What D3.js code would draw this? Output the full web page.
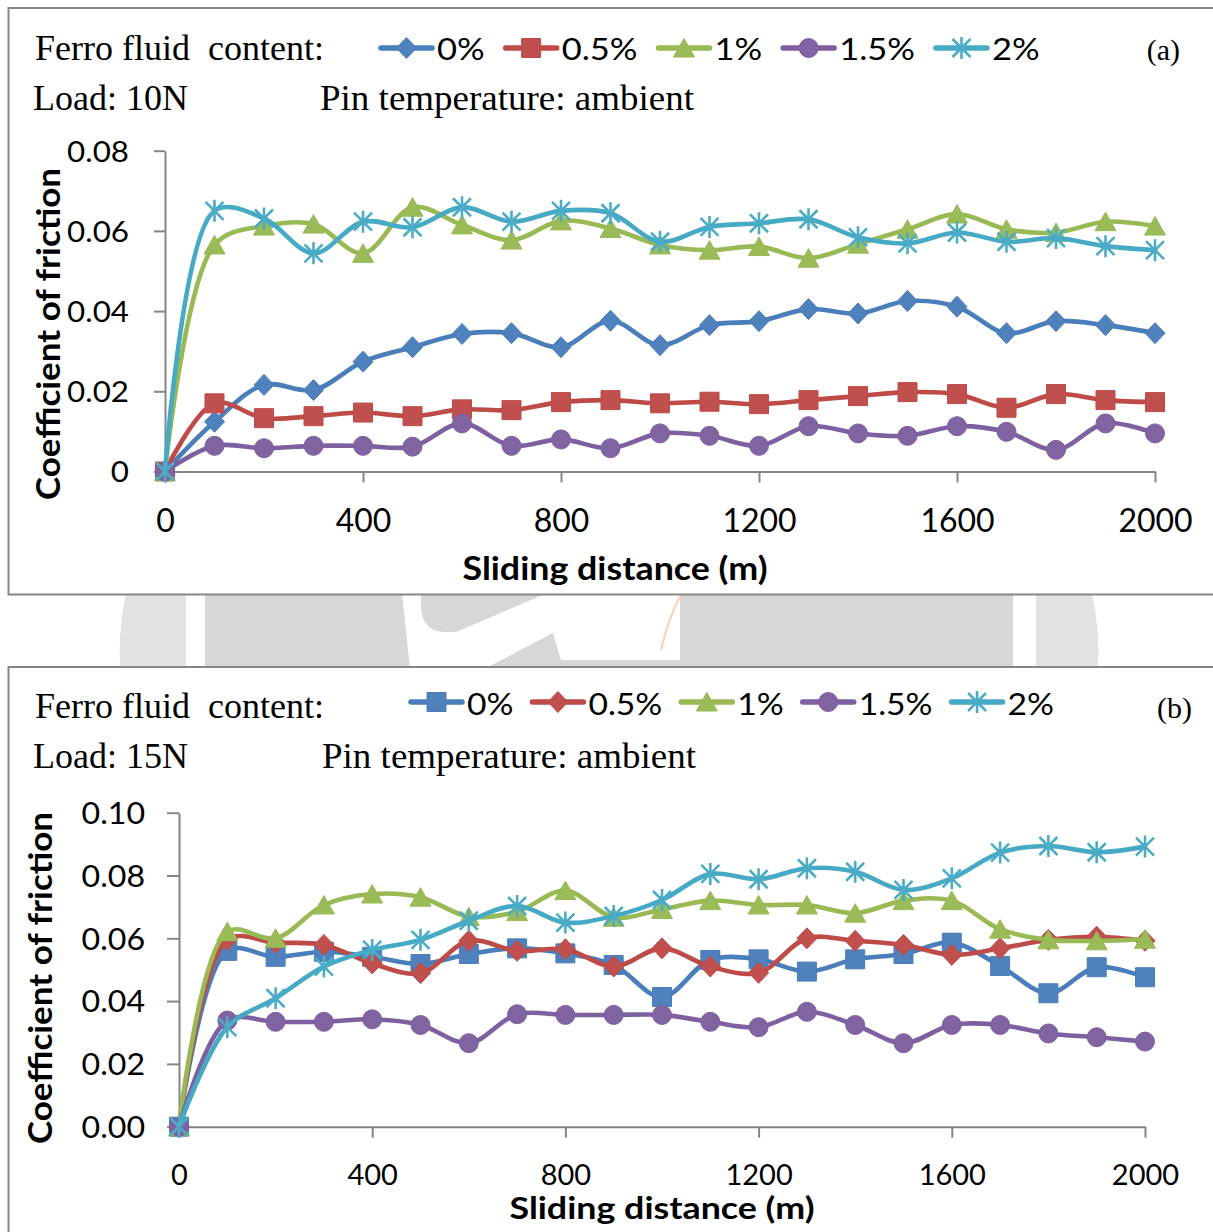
<!DOCTYPE html>
<html>
<head>
<meta charset="utf-8">
<script src="https://d3js.org/d3.v7.min.js"></script>
<style>
  body { margin: 0; background: #ffffff; }
  svg { display: block; }
</style>
</head>
<body>
<div id="chart"></div>
<script>
// sliding distance (m), one reading every 100 m
var distance = [0, 100, 200, 300, 400, 500, 600, 700, 800, 900, 1000,
                1100, 1200, 1300, 1400, 1500, 1600, 1700, 1800, 1900, 2000];

var seriesNames = ["0%", "0.5%", "1%", "1.5%", "2%"];

// (a) load 10N - coefficient of friction per ferro fluid content
var cofA0  = [0, 0.0124, 0.0216, 0.0203, 0.0274, 0.0310, 0.0343, 0.0345, 0.0310, 0.0376, 0.0315,
              0.0365, 0.0375, 0.0405, 0.0394, 0.0425, 0.0411, 0.0345, 0.0375, 0.0365, 0.0345];
var cofA05 = [0, 0.0170, 0.0133, 0.0138, 0.0147, 0.0138, 0.0155, 0.0153, 0.0173, 0.0178, 0.0170,
              0.0174, 0.0168, 0.0178, 0.0188, 0.0198, 0.0193, 0.0159, 0.0193, 0.0178, 0.0173];
var cofA1  = [0, 0.0565, 0.0612, 0.0617, 0.0544, 0.0659, 0.0615, 0.0577, 0.0625, 0.0606, 0.0565,
              0.0552, 0.0561, 0.0532, 0.0567, 0.0604, 0.0642, 0.0604, 0.0596, 0.0623, 0.0612];
var cofA15 = [0, 0.0064, 0.0058, 0.0064, 0.0064, 0.0062, 0.0120, 0.0064, 0.0080, 0.0058, 0.0095,
              0.0089, 0.0064, 0.0113, 0.0095, 0.0089, 0.0113, 0.0099, 0.0054, 0.0120, 0.0095];
var cofA2  = [0, 0.0650, 0.0631, 0.0544, 0.0623, 0.0609, 0.0659, 0.0623, 0.0650, 0.0644, 0.0573,
              0.0610, 0.0619, 0.0629, 0.0584, 0.0569, 0.0596, 0.0573, 0.0582, 0.0562, 0.0552];

// (b) load 15N
var cofB0  = [0, 0.0560, 0.0541, 0.0557, 0.0541, 0.0518, 0.0550, 0.0568, 0.0552, 0.0515, 0.0413,
              0.0531, 0.0533, 0.0494, 0.0533, 0.0550, 0.0586, 0.0512, 0.0425, 0.0508, 0.0476];
var cofB05 = [0, 0.0595, 0.0586, 0.0579, 0.0520, 0.0489, 0.0592, 0.0560, 0.0565, 0.0510, 0.0568,
              0.0510, 0.0490, 0.0600, 0.0592, 0.0579, 0.0547, 0.0568, 0.0595, 0.0605, 0.0592];
var cofB1  = [0, 0.0621, 0.0600, 0.0706, 0.0741, 0.0731, 0.0669, 0.0685, 0.0752, 0.0667, 0.0692,
              0.0720, 0.0706, 0.0706, 0.0680, 0.0720, 0.0720, 0.0629, 0.0595, 0.0592, 0.0597];
var cofB15 = [0, 0.0338, 0.0334, 0.0334, 0.0342, 0.0324, 0.0266, 0.0358, 0.0356, 0.0356, 0.0356,
              0.0334, 0.0317, 0.0366, 0.0324, 0.0266, 0.0324, 0.0324, 0.0297, 0.0285, 0.0271];
var cofB2  = [0, 0.0317, 0.0409, 0.0510, 0.0563, 0.0595, 0.0656, 0.0703, 0.0650, 0.0671, 0.0722,
              0.0805, 0.0788, 0.0823, 0.0812, 0.0754, 0.0791, 0.0873, 0.0894, 0.0874, 0.0892];

// tick labels
var xTicks  = [0, 400, 800, 1200, 1600, 2000];
var yTicksA = [0, 0.02, 0.04, 0.06, 0.08];
var yTicksB = [0, 0.02, 0.04, 0.06, 0.08, 0.10];

// excel 2007 palette
var lineColors   = ["#4a7ebb", "#be4b48", "#98b954", "#7d60a0", "#46aac5"];
var markerColors = ["#4f81bd", "#c0504d", "#9bbb59", "#8064a2", "#4bacc6"];

var sansFont  = "Lato, 'Open Sans', sans-serif";
var serifFont = "'Liberation Serif', 'Times New Roman', serif";
var axisColor = "#868686";

//set svg dimensions
var svgWidth = 1213;
var svgHeight = 1232;

var svg = d3.select("#chart").append("svg")
    .attr("width", svgWidth)
    .attr("height", svgHeight);

svg.append("rect")
    .attr("width", svgWidth)
    .attr("height", svgHeight)
    .attr("fill", "#ffffff");

// widen text like the stretched original
function stretch(sel, k) {
    sel.each(function() {
        var w = this.getComputedTextLength();
        d3.select(this)
            .attr("textLength", w * k)
            .attr("lengthAdjust", "spacingAndGlyphs");
    });
}

// marker shapes as excel draws them
function markerPath(type) {
    if (type === "diamond") return "M0,-10.5L10,0L0,10.5L-10,0Z";
    if (type === "square") return "M-9.5,-9.5H9.5V9.5H-9.5Z";
    if (type === "triangle") return "M0,-9.5L10.5,9L-10.5,9Z";
    if (type === "circle") return "M-9.5,0A9.5,9.5 0 1,0 9.5,0A9.5,9.5 0 1,0 -9.5,0Z";
    return "M0,-11V11M-9,-9L9,9M-9,9L9,-9";
}

function drawMarker(g, type, i) {
    var p = g.append("path").attr("d", markerPath(type));
    if (type === "star") {
        p.attr("fill", "none")
            .attr("stroke", markerColors[i])
            .attr("stroke-width", 2.6);
    } else {
        p.attr("fill", markerColors[i])
            .attr("stroke", lineColors[i])
            .attr("stroke-width", 1);
    }
}

// ---- watermark band between the two charts
var mark = svg.append("g");
mark.append("path")
    .attr("d", "M126,594H186V668H120Q118,630 126,594Z")
    .attr("fill", "#e2e2e2");
mark.append("rect").attr("x", 205).attr("y", 594).attr("width", 808).attr("height", 74).attr("fill", "#d7d7d7");
mark.append("path")
    .attr("d", "M402,594H421V610Q424,632 446,632H456L545,594H680V660H561L553,633L486,668H410Z")
    .attr("fill", "#ffffff");
mark.append("path")
    .attr("d", "M680,596Q668,620 661,650")
    .attr("fill", "none")
    .attr("stroke", "#f9d2b6")
    .attr("stroke-width", 2);
mark.append("path")
    .attr("d", "M1036,594H1092Q1100,630 1098,668H1036Z")
    .attr("fill", "#e2e2e2");

// ---- panels
var panels = [
    {
        top: 8, bottom: 594.5,
        xRange: [165, 1155], yRange: [471.5, 150.7], yDomain: [0, 0.08],
        yTicks: yTicksA, yFormat: function(d) { return d === 0 ? "0" : d3.format(".2f")(d); },
        series: [cofA0, cofA05, cofA1, cofA15, cofA2],
        markers: ["diamond", "square", "triangle", "circle", "star"],
        yTickSize: 11, yPad: 25, yFont: 29, yStretch: 1.08,
        xFont: 32, xLabelY: 532,
        xTitleX: 615, xTitleY: 580, xTitleFont: 33,
        yTitleX: 60, yTitleY: 334, yTitleFont: 32,
        legendY: 48, legendBase: 60, legendX: 379, legendFont: 30, legendStretch: 1.15, legendGap: 19,
        load: "Load: 10N", tag: "(a)", tagX: 1180,
        headY: 60, loadY: 110, pinX: 320
    },
    {
        top: 667, bottom: 1300,
        xRange: [179, 1145], yRange: [1126.7, 812.7], yDomain: [0, 0.10],
        yTicks: yTicksB, yFormat: d3.format(".2f"),
        series: [cofB0, cofB05, cofB1, cofB15, cofB2],
        markers: ["square", "diamond", "triangle", "circle", "star"],
        yTickSize: 12, yPad: 22, yFont: 30, yStretch: 1.07,
        xFont: 29, xLabelY: 1185,
        xTitleX: 662, xTitleY: 1219, xTitleFont: 30,
        yTitleX: 52, yTitleY: 978, yTitleFont: 33,
        legendY: 702, legendBase: 715, legendX: 409, legendFont: 30, legendStretch: 1.12, legendGap: 17,
        load: "Load: 15N", tag: "(b)", tagX: 1192,
        headY: 718, loadY: 768, pinX: 322
    }
];

panels.forEach(function(p) {

    var g = svg.append("g");

    // chart area with border
    g.append("rect")
        .attr("x", 8.5)
        .attr("y", p.top)
        .attr("width", 1240)
        .attr("height", p.bottom - p.top)
        .attr("fill", "#ffffff")
        .attr("stroke", axisColor)
        .attr("stroke-width", 2);

    // create scales
    var xScale = d3.scaleLinear().domain([0, 2000]).range(p.xRange);
    var yScale = d3.scaleLinear().domain(p.yDomain).range(p.yRange);

    // y axis
    var yAxis = g.append("g")
        .attr("transform", `translate(${p.xRange[0]}, 0)`)
        .call(d3.axisLeft(yScale).tickValues(p.yTicks).tickFormat(p.yFormat)
            .tickSize(p.yTickSize).tickSizeOuter(0).tickPadding(p.yPad));

    // x axis
    var xAxis = g.append("g")
        .attr("transform", `translate(0, ${p.yRange[0]})`)
        .call(d3.axisBottom(xScale).tickValues(xTicks).tickFormat(d3.format("d"))
            .tickSize(11).tickSizeOuter(0));

    [xAxis, yAxis].forEach(function(ax) {
        ax.select(".domain").attr("stroke", axisColor).attr("stroke-width", 2);
        ax.selectAll(".tick line").attr("stroke", axisColor).attr("stroke-width", 2);
        ax.selectAll("text").attr("fill", "#000000").attr("font-family", sansFont);
    });

    yAxis.selectAll("text")
        .attr("font-size", p.yFont)
        .attr("dy", "0.36em");
    stretch(yAxis.selectAll("text"), p.yStretch);

    xAxis.selectAll("text")
        .attr("font-size", p.xFont)
        .attr("y", p.xLabelY - p.yRange[0])
        .attr("dy", 0);

    // axis titles
    g.append("text")
        .attr("x", p.xTitleX)
        .attr("y", p.xTitleY)
        .attr("text-anchor", "middle")
        .attr("font-family", sansFont)
        .attr("font-weight", "bold")
        .attr("font-size", p.xTitleFont)
        .attr("textLength", 305)
        .attr("lengthAdjust", "spacingAndGlyphs")
        .text("Sliding distance (m)");

    g.append("text")
        .attr("transform", `translate(${p.yTitleX}, ${p.yTitleY}) rotate(-90)`)
        .attr("text-anchor", "middle")
        .attr("font-family", sansFont)
        .attr("font-weight", "bold")
        .attr("font-size", p.yTitleFont)
        .attr("textLength", 332)
        .attr("lengthAdjust", "spacingAndGlyphs")
        .text("Coefficient of friction");

    // smoothed lines with markers, series by series
    var line = d3.line()
        .x(function(d) { return xScale(d[0]); })
        .y(function(d) { return yScale(d[1]); })
        .curve(d3.curveCatmullRom.alpha(0.5));

    p.series.forEach(function(values, i) {
        var pts = distance.map(function(d, j) { return [d, values[j]]; });

        g.append("path")
            .datum(pts)
            .attr("d", line)
            .attr("fill", "none")
            .attr("stroke", lineColors[i])
            .attr("stroke-width", 4.6)
            .attr("stroke-linejoin", "round")
            .attr("stroke-linecap", "round");

        pts.forEach(function(d) {
            var m = g.append("g")
                .attr("transform", `translate(${xScale(d[0])}, ${yScale(d[1])})`);
            drawMarker(m, p.markers[i], i);
        });
    });

    // header texts
    g.append("text")
        .attr("x", 35)
        .attr("y", p.headY)
        .attr("font-family", serifFont)
        .attr("font-size", 36)
        .attr("xml:space", "preserve")
        .text("Ferro fluid  content:");

    g.append("text")
        .attr("x", 33)
        .attr("y", p.loadY)
        .attr("font-family", serifFont)
        .attr("font-size", 36)
        .text(p.load);

    g.append("text")
        .attr("x", p.pinX)
        .attr("y", p.loadY)
        .attr("font-family", serifFont)
        .attr("font-size", 36)
        .attr("textLength", 374)
        .attr("lengthAdjust", "spacingAndGlyphs")
        .text("Pin temperature: ambient");

    g.append("text")
        .attr("x", p.tagX)
        .attr("y", p.headY)
        .attr("text-anchor", "end")
        .attr("font-family", serifFont)
        .attr("font-size", 30)
        .text(p.tag);

    // legend
    var lx = p.legendX;
    seriesNames.forEach(function(name, i) {
        var item = g.append("g");
        item.append("line")
            .attr("x1", lx + 2).attr("x2", lx + 53)
            .attr("y1", p.legendY).attr("y2", p.legendY)
            .attr("stroke", lineColors[i])
            .attr("stroke-width", 5.5)
            .attr("stroke-linecap", "round");
        var m = item.append("g").attr("transform", `translate(${lx + 27.5}, ${p.legendY})`);
        drawMarker(m, p.markers[i], i);
        var t = item.append("text")
            .attr("x", lx + 58)
            .attr("y", p.legendBase)
            .attr("font-family", sansFont)
            .attr("font-size", p.legendFont)
            .text(name);
        var w = t.node().getComputedTextLength() * p.legendStretch;
        stretch(t, p.legendStretch);
        lx = lx + 58 + w + p.legendGap;
    });
});
</script>
</body>
</html>
